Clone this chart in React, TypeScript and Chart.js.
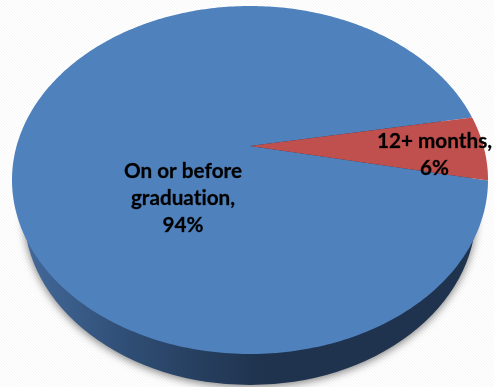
import { useEffect, useRef } from "react";
import { Chart, registerables } from "chart.js";

Chart.register(...registerables);

const categories = ["On or before graduation", "12+ months"];
const shares = [94, 6];
const sliceColors = ["#4f81bd", "#c0504d"];
const labelLines = [
  ["On or before", "graduation,", "94%"],
  ["12+ months,", "6%"],
];

const W = 494;
const H = 387;
// Horizontal stretch of the disc relative to its vertical radius.
const STRETCH = 238 / 174;
// Foreshortening: where the disc's hub lands between the near and far rim.
const TILT = -0.195;
const WALL = { dx: 0, dy: 33, rx: 226, ry: 172 };
const LABEL_ANCHORS = [
  { x: 183, y: 198 },
  { x: 434.5, y: 154.5 },
];
const LINE_HEIGHT = 27;

// Projects a point of the unit disc to the canvas.
function project(cx: number, cy: number, rx: number, ry: number, u: number, v: number) {
  const d = 1 + TILT * v;
  return {
    x: cx + (rx * u * Math.sqrt(1 - TILT * TILT)) / d,
    y: cy + (ry * (v + TILT)) / d,
  };
}

const tiltedPie = {
  id: "tiltedPie",
  beforeDraw(chart: any) {
    const { ctx } = chart;
    // Faint diagonal weave of the backdrop.
    ctx.save();
    ctx.fillStyle = "#ffffff";
    ctx.fillRect(0, 0, W, H);
    ctx.strokeStyle = "#f6f6f6";
    ctx.lineWidth = 1;
    ctx.beginPath();
    for (let i = -H; i < W + H; i += 3) {
      ctx.moveTo(i, 0);
      ctx.lineTo(i + H, H);
    }
    ctx.stroke();
    ctx.restore();
  },
  beforeDatasetsDraw(chart: any) {
    const { ctx } = chart;
    const arcs = chart.getDatasetMeta(0).data;
    const { x: cx, y: cy, outerRadius: ry } = arcs[0];
    const rx = ry * STRETCH;

    // Side wall with its soft drop shadow.
    ctx.save();
    const wallGradient = ctx.createLinearGradient(cx - WALL.rx, 0, cx + 10, 0);
    wallGradient.addColorStop(0, "#43699a");
    wallGradient.addColorStop(0.45, "#2f4d74");
    wallGradient.addColorStop(1, "#1f334e");
    ctx.shadowColor = "rgba(0,0,0,0.5)";
    ctx.shadowBlur = 9;
    ctx.shadowOffsetY = 2;
    ctx.fillStyle = wallGradient;
    ctx.beginPath();
    ctx.ellipse(cx + WALL.dx, cy + WALL.dy, WALL.rx, WALL.ry, 0, 0, Math.PI * 2);
    ctx.fill();
    ctx.restore();

    // Top face: each slice follows the angles computed by the controller.
    arcs.forEach((arc: any) => {
      ctx.save();
      ctx.fillStyle = arc.options.backgroundColor;
      ctx.beginPath();
      const hub = project(cx, cy, rx, ry, 0, 0);
      ctx.moveTo(hub.x, hub.y);
      const steps = 360;
      for (let s = 0; s <= steps; s++) {
        const a = arc.startAngle + ((arc.endAngle - arc.startAngle) * s) / steps;
        const p = project(cx, cy, rx, ry, Math.cos(a), Math.sin(a));
        ctx.lineTo(p.x, p.y);
      }
      ctx.closePath();
      ctx.fill();
      ctx.restore();
    });

    // Slice captions; a hair of letter spacing keeps the glyphs unligated.
    arcs.forEach((_: any, i: number) => {
      const lines = labelLines[i];
      const anchor = LABEL_ANCHORS[i];
      ctx.save();
      ctx.fillStyle = "#000000";
      ctx.strokeStyle = "rgba(0,0,0,0.6)";
      ctx.lineWidth = 0.4;
      ctx.font = "bold 20.7px Lato";
      ctx.letterSpacing = "0.01px";
      ctx.textAlign = "center";
      ctx.textBaseline = "middle";
      const top = anchor.y - ((lines.length - 1) * LINE_HEIGHT) / 2;
      lines.forEach((line, k) => {
        ctx.fillText(line, anchor.x, top + k * LINE_HEIGHT);
        ctx.strokeText(line, anchor.x, top + k * LINE_HEIGHT);
      });
      ctx.restore();
    });
    return false;
  },
};

export default function App() {
  const ref = useRef<HTMLCanvasElement>(null);
  useEffect(() => {
    document.body.style.margin = "0";
    const chart = new Chart(ref.current!, {
      type: "pie",
      data: {
        labels: categories,
        datasets: [{ data: shares, backgroundColor: sliceColors, borderWidth: 0 }],
      },
      options: {
        responsive: false,
        animation: false,
        rotation: 101.4,
        layout: { padding: { left: 12, right: 6, top: 6, bottom: 33 } },
        plugins: { legend: { display: false }, tooltip: { enabled: false } },
      },
      plugins: [tiltedPie],
    } as any);
    return () => chart.destroy();
  }, []);
  return <canvas ref={ref} width={W} height={H} style={{ display: "block" }} />;
}
